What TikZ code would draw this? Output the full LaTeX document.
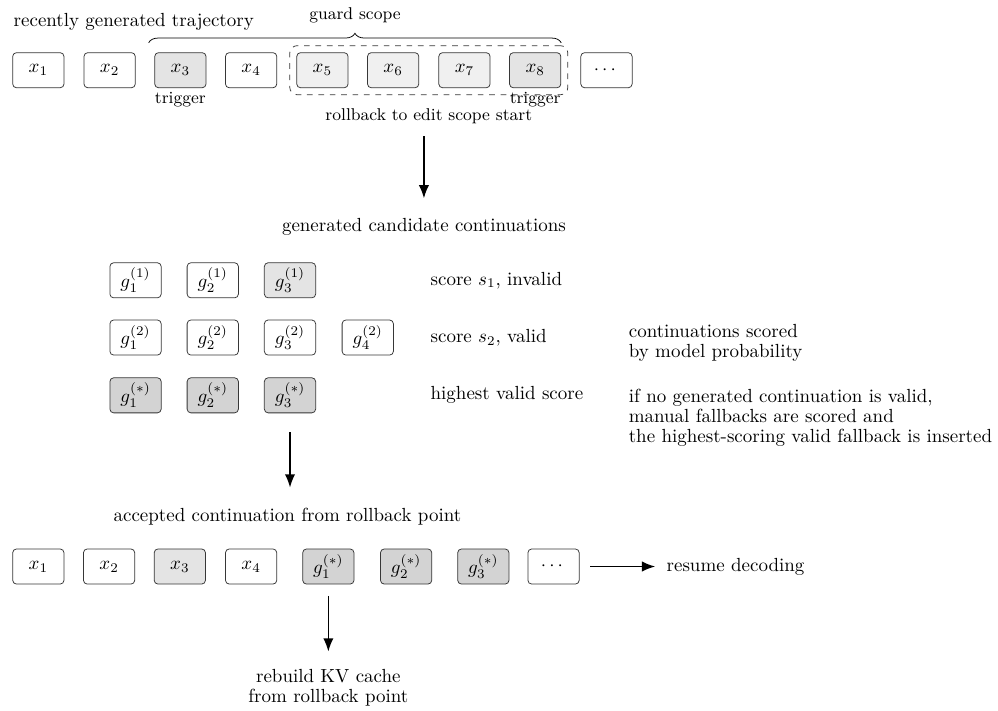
\documentclass[tikz,border=0pt]{standalone}
\usepackage{amsmath, amssymb}
\usepackage{xcolor}
\usepackage{tikz}
\usetikzlibrary{positioning,arrows.meta,fit,decorations.pathreplacing}
\definecolor{tokedge}{RGB}{55,55,55}
\definecolor{scopegray}{RGB}{240,240,240}
\definecolor{triggergray}{RGB}{228,228,228}
\definecolor{bestgray}{RGB}{211,211,211}

\begin{document}
\begin{tikzpicture}[
  tok/.style={rectangle, draw=tokedge, fill=white, rounded corners=2pt,
              minimum width=0.95cm, minimum height=0.65cm, inner sep=2pt},
  trig/.style={tok, fill=triggergray},
  scoped/.style={tok, fill=scopegray},
  best/.style={tok, fill=bestgray},
  lbl/.style={font=\small, inner sep=1pt},
  note/.style={anchor=west, align=left, font=\fontsize{10}{10.5}\selectfont},
  arrow/.style={-{Latex[length=7pt,width=5.5pt]}, thick, color=black}
]
  \useasboundingbox (0,0) rectangle (18.48,-13.15);

  % recently generated trajectory
  \node[anchor=west] (traj) at (0.13,-0.40) {recently generated trajectory};
  \node[tok] (x1) at (0.71,-1.30) {$x_1$};
  \node[tok] (x2) at (2.03,-1.30) {$x_2$};
  \node[trig] (x3) at (3.34,-1.30) {$x_3$};
  \node[tok] (x4) at (4.65,-1.30) {$x_4$};
  \node[scoped] (x5) at (5.97,-1.30) {$x_5$};
  \node[scoped] (x6) at (7.28,-1.30) {$x_6$};
  \node[scoped] (x7) at (8.60,-1.30) {$x_7$};
  \node[trig] (x8) at (9.91,-1.30) {$x_8$};
  \node[tok] (xdots) at (11.23,-1.30) {$\cdots$};

  \node[draw=tokedge, dashed, rounded corners=4pt, fit=(x5)(x8), inner sep=3.5pt] (guard) {};
  \draw[decorate, decoration={brace, amplitude=5pt}]
    ([xshift=-3pt,yshift=5pt]x3.north west) -- ([yshift=5pt]x8.north east)
    node[midway, above=9pt, lbl] (guardlbl) {guard scope};
  \node[lbl, below=1pt of x3] (trig3) {trigger};
  \node[lbl, below=1pt of x8] (trig8) {trigger};
  \node[lbl, below=5.7pt of guard] (rollback) {rollback to edit scope start};

  % candidate continuations
  \node (gencand) at (7.85,-4.20) {generated candidate continuations};
  \draw[arrow, shorten <=5.5pt, shorten >=7pt] (gencand.north |- rollback.south) -- (gencand.north);

  \node[tok] (ga1) at (2.51,-5.19) {$g_1^{(1)}$};
  \node[tok] (ga2) at (3.94,-5.19) {$g_2^{(1)}$};
  \node[trig] (ga3) at (5.37,-5.19) {$g_3^{(1)}$};

  \node[tok] (gb1) at (2.51,-6.25) {$g_1^{(2)}$};
  \node[tok] (gb2) at (3.94,-6.25) {$g_2^{(2)}$};
  \node[tok] (gb3) at (5.37,-6.25) {$g_3^{(2)}$};
  \node[tok] (gb4) at (6.81,-6.25) {$g_4^{(2)}$};

  \node[best] (gs1) at (2.51,-7.32) {$g_1^{(*)}$};
  \node[best] (gs2) at (3.94,-7.32) {$g_2^{(*)}$};
  \node[best] (gs3) at (5.37,-7.32) {$g_3^{(*)}$};

  \node[note] (score1) at (7.85,-5.19) {score $s_1$, invalid};
  \node[note] (score2) at (7.85,-6.25) {score $s_2$, valid};
  \node[note] (score3) at (7.85,-7.32) {highest valid score};

  \node[note] (scorednote) at (11.52,-6.34) {continuations scored\\by model probability};
  \node[note] (fallbacknote) at (11.52,-7.74) {if no generated continuation is valid,\\manual fallbacks are scored and\\the highest-scoring valid fallback is inserted};

  % accepted continuation
  \node[anchor=west] (accepted) at (1.98,-9.57) {accepted continuation from rollback point};
  \draw[arrow, shorten <=10pt, shorten >=7.4pt] (gs3.south) -- (gs3.south |- accepted.north);

  \node[tok] (y1) at (0.71,-10.49) {$x_1$};
  \node[tok] (y2) at (2.02,-10.49) {$x_2$};
  \node[trig] (y3) at (3.33,-10.49) {$x_3$};
  \node[tok] (y4) at (4.65,-10.49) {$x_4$};
  \node[best] (yg1) at (6.08,-10.49) {$g_1^{(*)}$};
  \node[best] (yg2) at (7.52,-10.49) {$g_2^{(*)}$};
  \node[best] (yg3) at (8.95,-10.49) {$g_3^{(*)}$};
  \node[tok] (ydots) at (10.25,-10.49) {$\cdots$};

  \node[anchor=west] (resume) at (12.22,-10.49) {resume decoding};
  \draw[arrow, shorten <=5.5pt, shorten >=2.5pt] (ydots) -- (resume);

  \node[align=center, font=\fontsize{10}{10.5}\selectfont] (rebuild) at (6.08,-12.74) {rebuild KV cache\\from rollback point};
  \draw[arrow, shorten <=6pt, shorten >=6pt] (yg1) -- (rebuild);
\end{tikzpicture}
\end{document}
